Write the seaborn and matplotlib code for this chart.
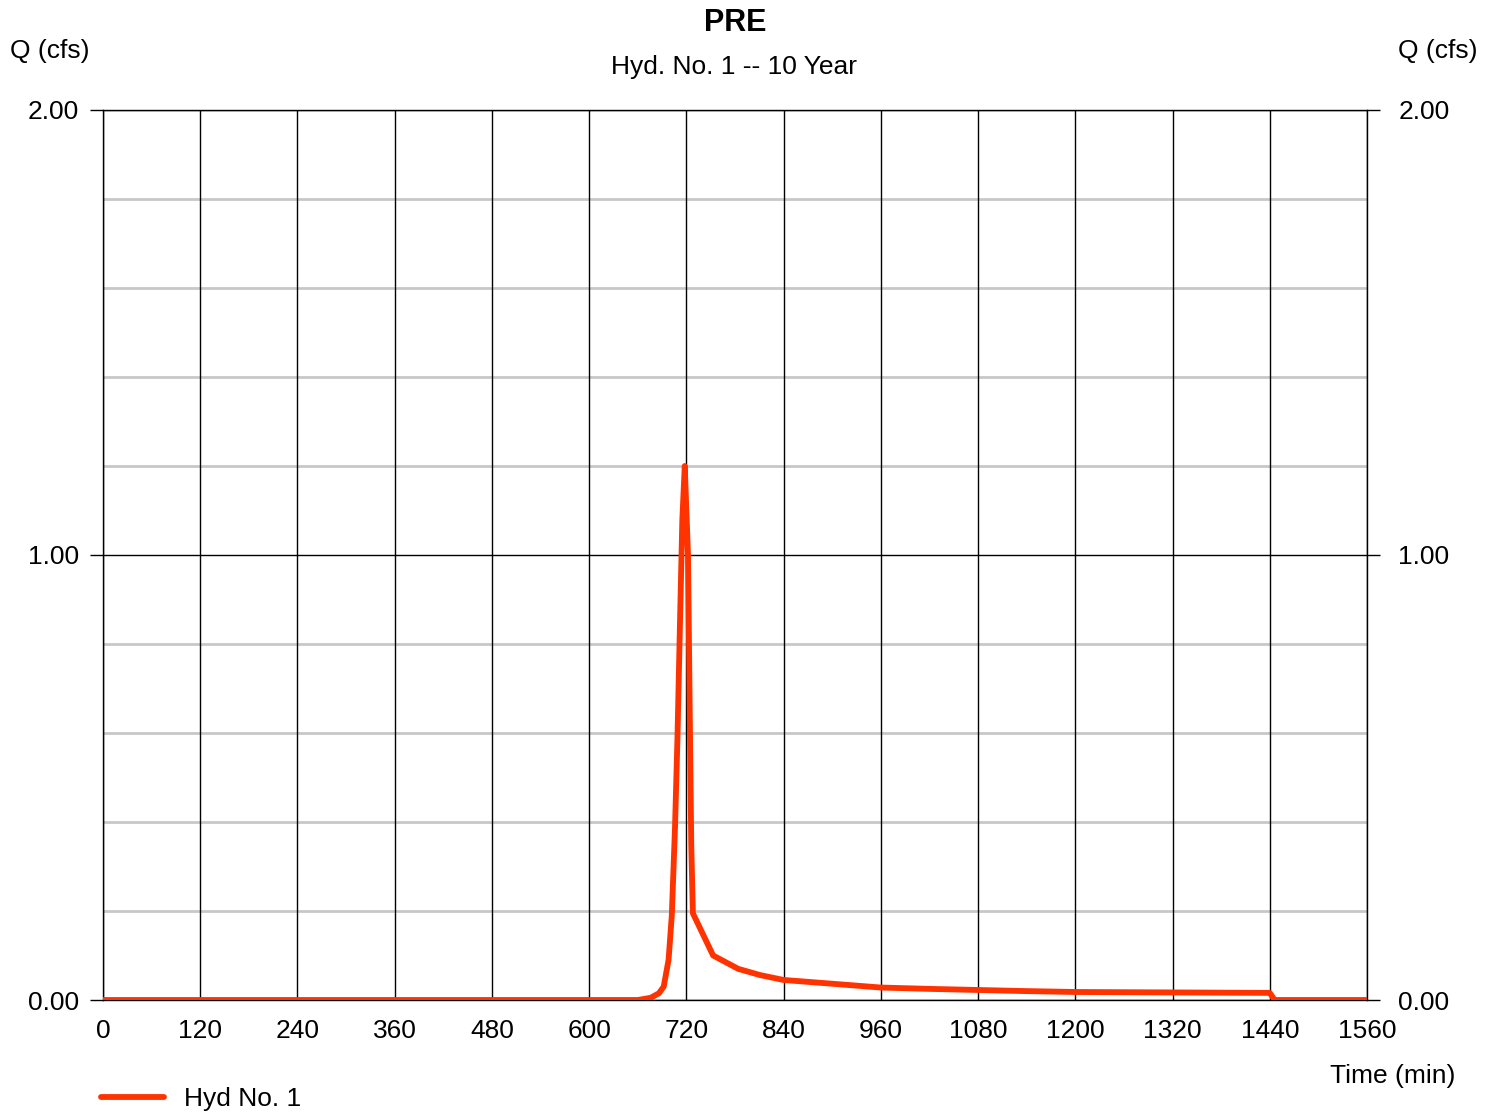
import pandas as pd
import seaborn as sns
import matplotlib.pyplot as plt
import numpy as np

# Hydrograph
time_min = [0, 660, 676, 686, 692, 698, 702, 706, 709, 712, 715, 718,
            722, 724, 726, 728, 753, 784, 811, 840, 897, 960, 1020,
            1080, 1140, 1200, 1320, 1440, 1446, 1560]
flow_cfs = [0, 0, 0.005, 0.015, 0.03, 0.09, 0.19, 0.39, 0.59, 0.84, 1.08, 1.20,
            1.00, 0.67, 0.35, 0.195, 0.100, 0.070, 0.056, 0.045, 0.037, 0.028, 0.025,
            0.0225, 0.020, 0.018, 0.017, 0.016, 0.0, 0.0]
x_ticks = list(range(0, 1561, 120))
y_major = [0.0, 1.0, 2.0]
y_minor = [0.2, 0.4, 0.6, 0.8, 1.2, 1.4, 1.6, 1.8]

df = pd.DataFrame({"Time": time_min, "Q": flow_cfs, "Series": "Hyd No. 1"})

sns.set_theme(style="white")
plt.rcParams["font.family"] = ["Liberation Sans", "DejaVu Sans"]
plt.rcParams["text.color"] = "black"
plt.rcParams["xtick.color"] = "black"
plt.rcParams["ytick.color"] = "black"

fs = 19

fig = plt.figure(figsize=(14.94, 11.12), dpi=100)
ax = fig.add_axes([103 / 1494, 1 - 1000 / 1112, 1264 / 1494, 890 / 1112])

# grid first so the curve sits on top
for y in y_minor:
    ax.axhline(y, color="#c8c8c8", lw=2, zorder=1)
for y in y_major:
    ax.axhline(y, color="black", lw=1, zorder=1.5)
for x in x_ticks:
    ax.axvline(x, color="black", lw=1, zorder=1.5)

sns.lineplot(data=df, x="Time", y="Q", hue="Series", palette=["#ff3300"],
             linewidth=4.2, ax=ax, zorder=3, legend=True)
for ln in ax.get_lines():
    ln.set_solid_capstyle("round")
    ln.set_solid_joinstyle("round")

ax.set_xlim(0, 1560)
ax.set_ylim(0, 2)
ax.set_xticks(x_ticks)
ax.set_yticks(y_major)
ax.set_yticklabels([f"{v:.2f}" for v in y_major])
ax.tick_params(axis="x", length=0, pad=14, labelsize=fs, colors="black")
ax.tick_params(axis="y", length=9.5, width=1, pad=8, labelsize=fs,
               colors="black", direction="out", left=True)
ax.set_xlabel("")
ax.set_ylabel("")
for s in ax.spines.values():
    s.set_color("black")
    s.set_linewidth(1)

ax2 = ax.twinx()
ax2.set_ylim(0, 2)
ax2.set_yticks(y_major)
ax2.set_yticklabels([f"{v:.2f}" for v in y_major])
ax2.tick_params(axis="y", length=9.5, width=1, pad=13, labelsize=fs,
                colors="black", direction="out", right=True)
for s in ax2.spines.values():
    s.set_visible(False)

# titles and axis captions
fig.text(735 / 1494, 1 - 23 / 1112, "PRE", ha="center", va="center",
         fontsize=22, fontweight="bold")
fig.text(734 / 1494, 1 - 67 / 1112, "Hyd. No. 1 -- 10 Year", ha="center",
         va="center", fontsize=fs)
fig.text(10 / 1494, 1 - 51 / 1112, "Q (cfs)", ha="left", va="center", fontsize=fs)
fig.text(1477 / 1494, 1 - 51 / 1112, "Q (cfs)", ha="right", va="center", fontsize=fs)
fig.text(1455 / 1494, 1 - 1076 / 1112, "Time (min)", ha="right", va="center",
         fontsize=fs)

handles, labels = ax.get_legend_handles_labels()
ax.legend(handles, labels, loc="center left",
          bbox_to_anchor=(101 / 1494, 1 - 1099 / 1112),
          bbox_transform=fig.transFigure, frameon=False, fontsize=fs,
          handlelength=2.4, handletextpad=0.75, borderpad=0, borderaxespad=0)

fig.savefig("out.png", dpi=100)
